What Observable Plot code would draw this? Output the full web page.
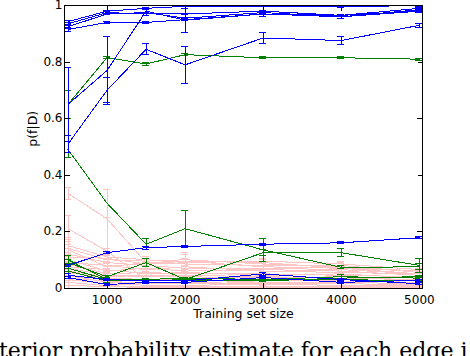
<!DOCTYPE html>
<html><head><meta charset="utf-8">
<script src="https://cdn.jsdelivr.net/npm/d3@7"></script>
<script src="https://cdn.jsdelivr.net/npm/@observablehq/plot@0.6"></script>
<style>
html,body{margin:0;padding:0;background:#fff;}
#wrap{position:relative;width:470px;height:356px;overflow:hidden;}
#caption{position:absolute;left:-1px;top:339.5px;font-family:"DejaVu Serif";font-size:22px;line-height:22px;white-space:nowrap;color:#000;}
</style></head>
<body><div id="wrap"><div id="chart"></div><div id="caption">terior probability estimate for each edge i</div></div>
<script>
const sizes = [500, 1000, 1500, 2000, 3000, 4000, 5000];
const xTicks = [1000, 2000, 3000, 4000, 5000];
const yTicks = [0, 0.2, 0.4, 0.6, 0.8, 1];

// blue edges (means, error half-widths)
const blueMeans = [
  [0.943, 0.98, 0.99, 0.997, 0.998, 0.997, 0.999],
  [0.935, 0.975, 0.97, 0.97, 0.98, 0.965, 0.99],
  [0.925, 0.97, 0.975, 0.955, 0.975, 0.96, 0.985],
  [0.915, 0.94, 0.94, 0.95, 0.97, 0.965, 0.98],
  [0.65, 0.77, 0.98, 0.948, 0.97, 0.96, 0.98],
  [0.51, 0.70, 0.845, 0.79, 0.885, 0.876, 0.93],
  [0.08, 0.125, 0.143, 0.147, 0.155, 0.16, 0.178],
  [0.037, 0.012, 0.02, 0.02, 0.037, 0.02, 0.027],
  [0.045, 0.03, 0.025, 0.025, 0.05, 0.03, 0.015]
];
const blueErrs = [
  [0.004, 0.003, 0.003, 0.002, 0.002, 0.003, 0.002],
  [0.005, 0.003, 0.004, 0.003, 0.003, 0.003, 0.003],
  [0.006, 0.003, 0.01, 0.003, 0.003, 0.006, 0.003],
  [0.008, 0.003, 0.005, 0.003, 0.003, 0.003, 0.003],
  [0.13, 0.12, 0.01, 0.043, 0.01, 0.005, 0.005],
  [0.03, 0.045, 0.02, 0.065, 0.02, 0.015, 0.008],
  [0.004, 0.004, 0.005, 0.003, 0.003, 0.003, 0.003],
  [0.005, 0.003, 0.003, 0.003, 0.004, 0.003, 0.003],
  [0.006, 0.003, 0.003, 0.003, 0.005, 0.003, 0.003]
];

// green edges
const greenMeans = [
  [0.65, 0.816, 0.793, 0.826, 0.815, 0.815, 0.81],
  [0.49, 0.30, 0.155, 0.21, 0.135, 0.073, 0.075],
  [0.09, 0.04, 0.09, 0.03, 0.125, 0.125, 0.08],
  [0.10, 0.03, 0.03, 0.025, 0.03, 0.04, 0.035],
  [0.07, 0.03, 0.025, 0.03, 0.025, 0.035, 0.04],
  [0.06, 0.025, 0.03, 0.035, 0.03, 0.03, 0.025]
];
const greenErrs = [
  [0.05, 0.005, 0.004, 0.004, 0.003, 0.003, 0.003],
  [0.028, 0, 0.02, 0.063, 0.04, 0.005, 0.01],
  [0.012, 0.004, 0.015, 0.004, 0.01, 0.014, 0.025],
  [0.015, 0.004, 0.003, 0.003, 0.004, 0.008, 0.005],
  [0.01, 0.005, 0.003, 0.003, 0.003, 0.004, 0.004],
  [0.008, 0.004, 0.003, 0.003, 0.003, 0.003, 0.003]
];

// pink edges
const pinkMeans = [
  [0.335, 0.245, 0.09, 0.095, 0.075, 0.07, 0.05],
  [0.21, 0.13, 0.03, 0.03, 0.02, 0.02, 0.015],
  [0.15, 0.11, 0.10, 0.09, 0.095, 0.085, 0.065],
  [0.14, 0.10, 0.095, 0.10, 0.085, 0.075, 0.06],
  [0.135, 0.075, 0.09, 0.085, 0.08, 0.08, 0.055],
  [0.12, 0.09, 0.08, 0.07, 0.07, 0.065, 0.05],
  [0.11, 0.105, 0.085, 0.095, 0.09, 0.07, 0.06],
  [0.10, 0.06, 0.07, 0.06, 0.065, 0.06, 0.045],
  [0.09, 0.08, 0.065, 0.075, 0.06, 0.055, 0.05],
  [0.085, 0.05, 0.055, 0.05, 0.05, 0.045, 0.04],
  [0.075, 0.065, 0.05, 0.055, 0.045, 0.05, 0.035],
  [0.07, 0.045, 0.04, 0.045, 0.04, 0.035, 0.03],
  [0.06, 0.04, 0.045, 0.04, 0.035, 0.04, 0.025],
  [0.055, 0.035, 0.03, 0.035, 0.03, 0.025, 0.02],
  [0.045, 0.02, 0.02, 0.015, 0.02, 0.02, 0.015],
  [0.035, 0.025, 0.015, 0.02, 0.015, 0.015, 0.012],
  [0.03, 0.015, 0.01, 0.01, 0.012, 0.01, 0.008],
  [0.02, 0.008, 0.005, 0.005, 0.005, 0.005, 0.004],
  [0.01, 0.004, 0.003, 0.002, 0.002, 0.002, 0.002]
];
const pinkErrs = [
  [0.02, 0.105, 0.01, 0.03, 0.01, 0.01, 0.01],
  [0.045, 0.12, 0.01, 0.01, 0.005, 0.005, 0.005],
  [0.03, 0.015, 0.01, 0.01, 0.01, 0.01, 0.01],
  [0.03, 0.02, 0.01, 0.02, 0.01, 0.01, 0.01],
  [0.02, 0.01, 0.01, 0.01, 0.01, 0.01, 0.01],
  [0.02, 0.01, 0.01, 0.01, 0.01, 0.01, 0.01],
  [0.015, 0.01, 0.01, 0.01, 0.01, 0.01, 0.01],
  [0.02, 0.01, 0.01, 0.01, 0.01, 0.01, 0.01],
  [0.015, 0.01, 0.01, 0.01, 0.01, 0.01, 0.01],
  [0.02, 0.01, 0.01, 0.01, 0.01, 0.01, 0.01],
  [0.015, 0.01, 0.01, 0.01, 0.01, 0.01, 0.01],
  [0.02, 0.01, 0.01, 0.01, 0.01, 0.01, 0.01],
  [0.015, 0.01, 0.01, 0.01, 0.01, 0.01, 0.01],
  [0.02, 0.01, 0.01, 0.01, 0.01, 0.01, 0.01],
  [0.02, 0.01, 0.01, 0.01, 0.01, 0.01, 0.01],
  [0.015, 0.01, 0.01, 0.01, 0.01, 0.01, 0.01],
  [0.02, 0.01, 0.01, 0.01, 0.01, 0.01, 0.01],
  [0.02, 0.008, 0.005, 0.005, 0.005, 0.005, 0.004],
  [0.01, 0.004, 0.003, 0.002, 0.002, 0.002, 0.002]
];

const groups = [
  {name: "pink", color: "#ffc4c4", means: pinkMeans, errs: pinkErrs},
  {name: "green", color: "#008000", means: greenMeans, errs: greenErrs},
  {name: "blue", color: "#0000ff", means: blueMeans, errs: blueErrs}
];

function rowsOf(g) {
  const rows = [];
  g.means.forEach((m, s) => m.forEach((p, i) => rows.push({
    id: g.name + s, size: sizes[i], p, e: g.errs[s][i]
  })));
  return rows;
}

const capHalf = 45; // in data units of training set size
const marks = [];
for (const g of groups) {
  const rows = rowsOf(g);
  const withErr = rows.filter(d => d.e > 0);
  marks.push(
    Plot.line(rows, {x: "size", y: "p", z: "id", stroke: g.color, strokeWidth: 1}),
    Plot.ruleX(withErr, {x: "size", y1: d => Math.max(0, d.p - d.e), y2: d => Math.min(1, d.p + d.e), stroke: g.color, strokeWidth: 1}),
    Plot.ruleY(withErr, {y: d => Math.max(0, d.p - d.e), x1: d => d.size - capHalf, x2: d => d.size + capHalf, stroke: g.color, strokeWidth: 1}),
    Plot.ruleY(withErr, {y: d => Math.min(1, d.p + d.e), x1: d => d.size - capHalf, x2: d => d.size + capHalf, stroke: g.color, strokeWidth: 1})
  );
}

// inward tick shape for vector marks
const tickShape = {draw(context, l) { context.moveTo(0, 0); context.lineTo(0, -l); }};
const tickOpts = {length: 5, anchor: "start", shape: tickShape, stroke: "#000", strokeWidth: 1};

const chart = Plot.plot({
  width: 470,
  height: 325,
  marginLeft: 64,
  marginRight: 48,
  marginTop: 5,
  marginBottom: 37.5,
  style: {fontFamily: "DejaVu Sans", fontSize: "12px", color: "#000", background: "#fff", shapeRendering: "crispEdges"},
  x: {domain: [455, 5040]},
  y: {domain: [0, 1]},
  marks: [
    ...marks,
    Plot.vector(xTicks, {x: d => d, frameAnchor: "bottom", rotate: 0, ...tickOpts}),
    Plot.vector(xTicks, {x: d => d, frameAnchor: "top", rotate: 180, ...tickOpts}),
    Plot.vector(yTicks, {y: d => d, frameAnchor: "left", rotate: 90, ...tickOpts}),
    Plot.vector(yTicks, {y: d => d, frameAnchor: "right", rotate: -90, ...tickOpts}),
    Plot.axisX(xTicks, {anchor: "bottom", tickSize: 0, tickPadding: 7, tickFormat: d => String(d), label: null}),
    Plot.axisY(yTicks, {anchor: "left", tickSize: 0, tickPadding: 2, tickFormat: d => String(d), label: null}),
    Plot.frame({stroke: "#000"}),
    Plot.text(["Training set size"], {frameAnchor: "bottom", dy: 21.5, lineAnchor: "top", fontSize: 12.5}),
    Plot.text(["p(f|D)"], {frameAnchor: "left", dx: -32, rotate: -90, fontSize: 12.5})
  ]
});
document.getElementById("chart").appendChild(chart);
</script>
</body></html>
